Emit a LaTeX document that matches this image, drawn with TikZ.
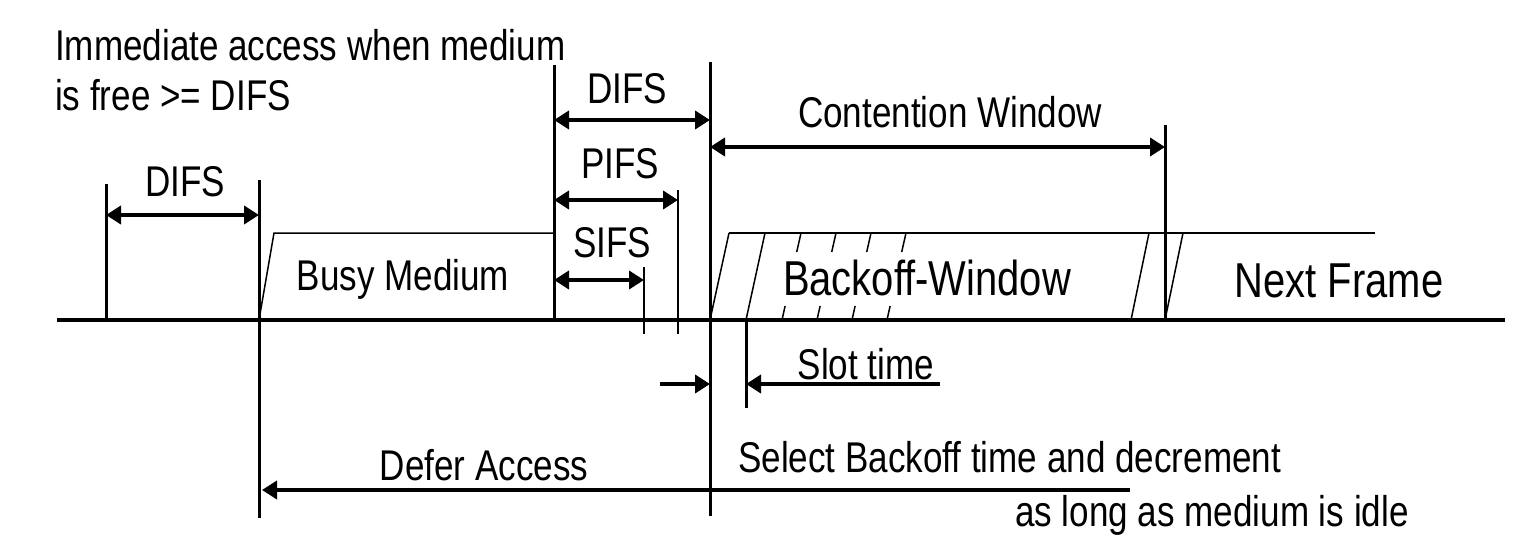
\documentclass[tikz,border=0pt]{standalone}
\usepackage{fontspec}
\setmainfont{Liberation Sans}
\usetikzlibrary{arrows.meta}
\begin{document}
\begin{tikzpicture}[x=1pt,y=-1pt,
 thk/.style={line width=3pt},
 thn/.style={line width=1.5pt},
 baseline/.style={line width=4pt},
 tipa/.tip={Triangle[length=15pt,width=18pt]},
 dim/.style={line width=4pt,tipa-tipa},
 onearrow/.style={line width=4pt,-tipa},
 lbl/.style={font=\fontsize{43}{48}\selectfont,inner sep=0pt,xscale=0.815},
 big/.style={font=\fontsize{49}{54}\selectfont,inner sep=0pt,xscale=0.815}]
\useasboundingbox (0,0) rectangle (1540,551);
% coordinates
\coordinate (L0) at (57,320);
\coordinate (L1) at (1505,320);
% base line
\draw[baseline] (L0) -- (L1);
% vertical lines
\coordinate (a1) at (106,184); \coordinate (a2) at (106,320);
\coordinate (b1) at (259,180); \coordinate (b2) at (259,518);
\coordinate (c1) at (554,65);  \coordinate (c2) at (554,320);
\coordinate (d1) at (710,62);  \coordinate (d2) at (710,516);
\coordinate (e1) at (1165,125); \coordinate (e2) at (1165,320);
\coordinate (p1) at (678,190); \coordinate (p2) at (678,334);
\coordinate (s1) at (644,267); \coordinate (s2) at (644,334);
\coordinate (t1) at (746,320); \coordinate (t2) at (746,408);
\draw[thk] (a1) -- (a2);
\draw[thk] (b1) -- (b2);
\draw[thk] (c1) -- (c2);
\draw[thk] (d1) -- (d2);
\draw[thk] (e1) -- (e2);
\draw[thn] (p1) -- (p2);
\draw[thn] (s1) -- (s2);
\draw[thk] (t1) -- (t2);
% dimension arrows
\draw[dim] (106,215) -- (259,215);
\draw[dim] (554,120) -- (710,120);
\draw[dim] (554,200) -- (678,200);
\draw[dim] (554,280) -- (644,280);
\draw[dim] (710,147) -- (1165,147);
% busy medium frame
\draw[thn] (259,320) -- (274,233) -- (554,233);
% backoff window + next frame top line
\draw[thn] (729,233) -- (1375,233);
\draw[thn] (710,320) -- (729,233);
\draw[thn] (746,320) -- (765,233);
\foreach \bx in {782,817,852,887}{
  \draw[thn] (\bx,320) -- ++(3.1,-14);
  \draw[thn] (\bx+14.7,252) -- (\bx+19,233);
}
\draw[thn] (1131,320) -- (1149,233);
\draw[thn] (1165,320) -- (1183,233);
% slot time
\draw[onearrow] (660,384) -- (710,384);
\draw[onearrow] (940,384) -- (746,384);
% defer access
\draw[onearrow] (1130,490) -- (262,490);
% labels
\node[lbl,anchor=west] (imm1) at (55,45) {Immediate access when medium};
\node[lbl,anchor=west] (imm2) at (55,95) {is free >= DIFS};
\node[lbl] (difs0) at (185,182) {DIFS};
\node[lbl] (difs1) at (627,89) {DIFS};
\node[lbl] (pifs) at (620,164) {PIFS};
\node[lbl] (sifs) at (612,243) {SIFS};
\node[lbl] (cw) at (950,112) {Contention Window};
\node[lbl] (busy) at (403,279) {Busy Medium};
\node[big] (bw) at (927,278) {Backoff-Window};
\node[big] (nf) at (1339,281) {Next Frame};
\node[lbl] (slot) at (866,364) {Slot time};
\node[lbl] (defer) at (484,465) {Defer Access};
\node[lbl,anchor=west] (sel) at (738,457) {Select Backoff time and decrement};
\node[lbl,anchor=west] (idle) at (1015,515) {as long as medium is idle};
\end{tikzpicture}
\end{document}
